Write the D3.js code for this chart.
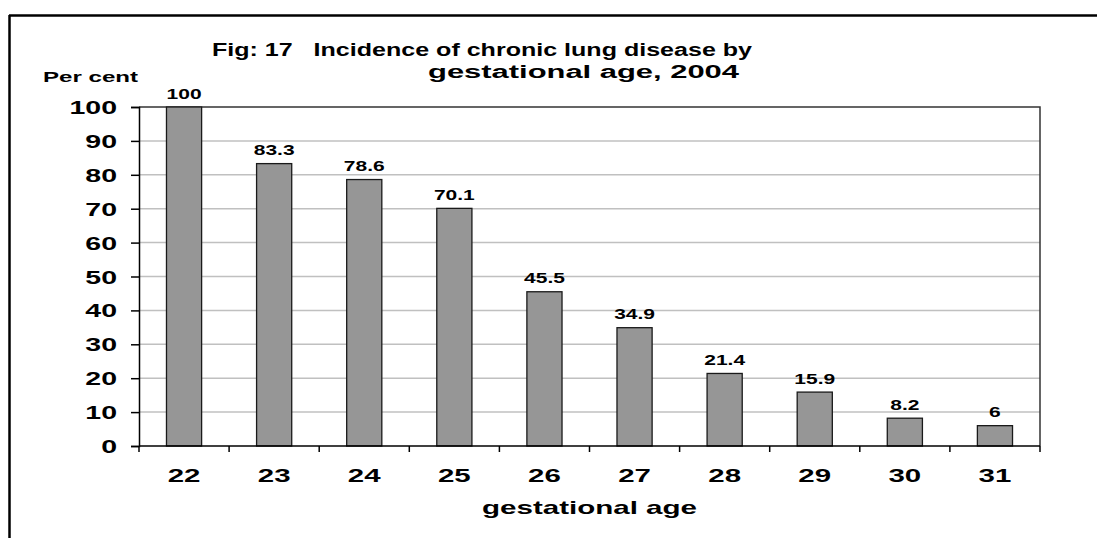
<!DOCTYPE html>
<html>
<head>
<meta charset="utf-8">
<script src="https://cdn.jsdelivr.net/npm/d3@7"></script>
<style>
  body { margin: 0; background: #fff; }
  text { font-family: "Liberation Sans", Arial, sans-serif; font-weight: bold; fill: #000; }
</style>
</head>
<body>
<svg id="chart" width="1097" height="538"></svg>
<script>
// chart data
var ages = ['22', '23', '24', '25', '26', '27', '28', '29', '30', '31'];
var incidence = [100, 83.3, 78.6, 70.1, 45.5, 34.9, 21.4, 15.9, 8.2, 6];
var yTicks = [0, 10, 20, 30, 40, 50, 60, 70, 80, 90, 100];
var titleLines = ['Fig: 17   Incidence of chronic lung disease by', 'gestational age, 2004'];

var svg = d3.select('#chart');
var margin = {left: 139, right: 1040, top: 107, bottom: 446};
var stretch = 1.5; // text in the original is widened horizontally

var x = d3.scaleBand().domain(ages).range([margin.left, margin.right])
    .paddingInner(0.61).paddingOuter(0.305);
var xEdges = d3.scaleLinear().domain([0, ages.length]).range([margin.left, margin.right]);
var y = d3.scaleLinear().domain([0, 100]).range([margin.bottom, margin.top]);

// helper: text widened around its anchor
function wideText(g, str, px, py, size, anchor, sx) {
    return g.append('text')
        .attr('transform', 'translate(' + px + ',' + py + ') scale(' + sx + ',1)')
        .attr('text-anchor', anchor)
        .style('font-size', size + 'px')
        .text(str);
}

// outer frame (top and left edges only)
svg.append('line').attr('x1', 9).attr('x2', 1097).attr('y1', 15.5).attr('y2', 15.5)
    .style('stroke', '#000').style('stroke-width', 2.5);
svg.append('line').attr('x1', 9.5).attr('x2', 9.5).attr('y1', 15).attr('y2', 538)
    .style('stroke', '#000').style('stroke-width', 2.5);

// gridlines
svg.append('g').selectAll('line').data(yTicks.filter(function(d) { return d > 0 && d < 100; }))
    .enter().append('line')
    .attr('x1', margin.left).attr('x2', margin.right)
    .attr('y1', function(d) { return y(d); }).attr('y2', function(d) { return y(d); })
    .style('stroke', '#c0c0c0').style('stroke-width', 1.5);

// plot area top and right border
svg.append('path')
    .attr('d', 'M' + margin.left + ',' + y(100) + 'H' + margin.right + 'V' + y(0))
    .style('fill', 'none').style('stroke', '#333').style('stroke-width', 1.5);

// bars
svg.append('g').selectAll('rect').data(incidence).enter().append('rect')
    .attr('x', function(d, i) { return x(ages[i]); })
    .attr('width', x.bandwidth())
    .attr('y', function(d) { return y(d); })
    .attr('height', function(d) { return y(0) - y(d); })
    .style('fill', '#969696').style('stroke', '#1a1a1a').style('stroke-width', 1.3);

// value labels
var vals = svg.append('g');
incidence.forEach(function(d, i) {
    wideText(vals, String(d), x(ages[i]) + x.bandwidth() / 2, y(d) - 8.5, 14, 'middle', stretch);
});

// y axis
var yAxis = d3.axisLeft(y).tickValues(yTicks).tickSize(8).tickFormat('');
var yg = svg.append('g').attr('transform', 'translate(' + margin.left + ',0)').call(yAxis);
yg.selectAll('path, line').style('stroke', '#000').style('stroke-width', 1.5);
yTicks.forEach(function(t) {
    wideText(svg, String(t), 117, y(t) + 7, 19, 'end', stretch);
});

// x axis: ticks at category edges
var xg = svg.append('g');
xg.append('line').attr('x1', margin.left).attr('x2', margin.right)
    .attr('y1', y(0)).attr('y2', y(0)).style('stroke', '#000').style('stroke-width', 1.5);
xg.selectAll('line.tick').data(d3.range(ages.length + 1)).enter().append('line')
    .attr('class', 'tick')
    .attr('x1', function(d) { return xEdges(d); }).attr('x2', function(d) { return xEdges(d); })
    .attr('y1', y(0)).attr('y2', y(0) + 6)
    .style('stroke', '#000').style('stroke-width', 1.5);
ages.forEach(function(a) {
    wideText(xg, a, x(a) + x.bandwidth() / 2, y(0) + 36, 19, 'middle', 1.55);
});

// y axis caption
svg.append('text').attr('x', 43).attr('y', 82)
    .attr('textLength', 95).attr('lengthAdjust', 'spacingAndGlyphs')
    .style('font-size', '14px').text('Per cent');

// x axis caption
svg.append('text').attr('x', 482).attr('y', 514)
    .attr('textLength', 215).attr('lengthAdjust', 'spacingAndGlyphs')
    .style('font-size', '19px').text('gestational age');

// title
svg.append('text').attr('x', 212).attr('y', 56)
    .attr('textLength', 540).attr('lengthAdjust', 'spacingAndGlyphs')
    .style('font-size', '18px').style('white-space', 'pre').text(titleLines[0]);
svg.append('text').attr('x', 428).attr('y', 78)
    .attr('textLength', 311).attr('lengthAdjust', 'spacingAndGlyphs')
    .style('font-size', '18px').text(titleLines[1]);
</script>
</body>
</html>
